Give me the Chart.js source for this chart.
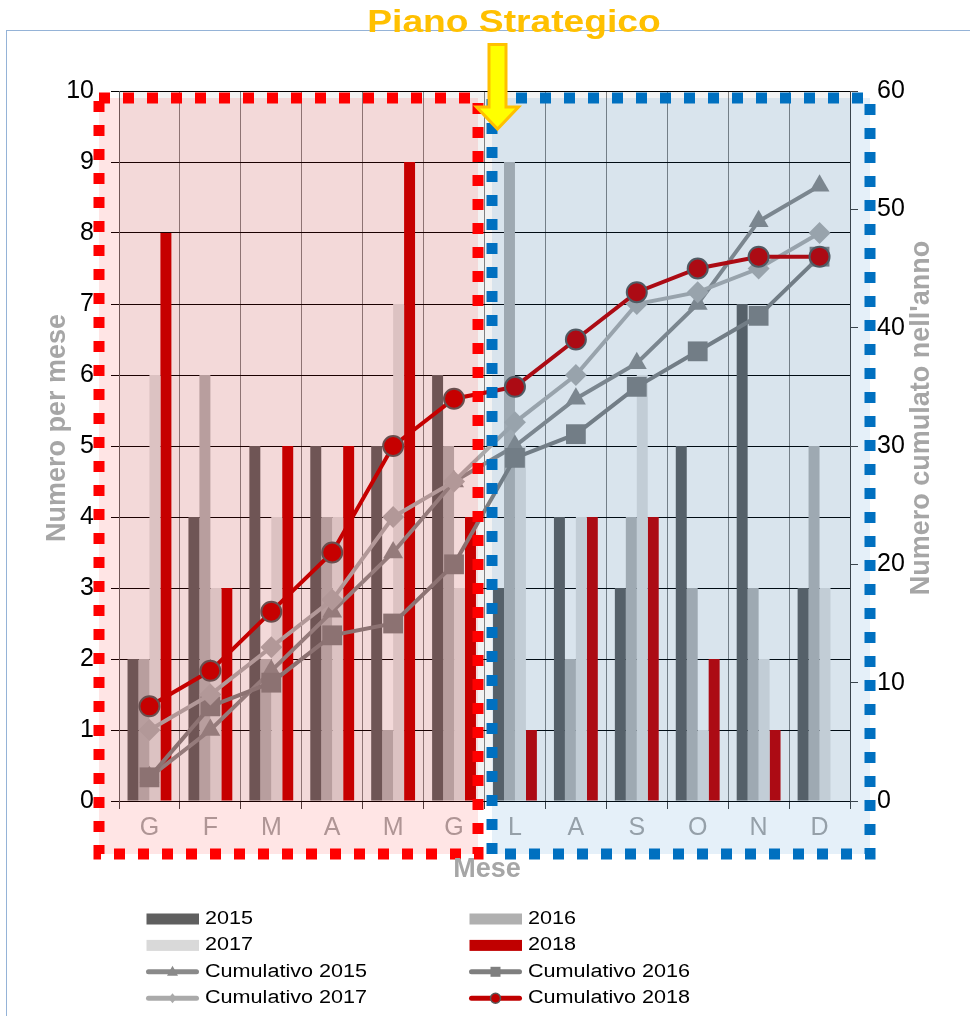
<!DOCTYPE html>
<html>
<head>
<meta charset="utf-8">
<script src="https://cdn.jsdelivr.net/npm/chart.js@4.4.1/dist/chart.umd.min.js"></script>
<style>
  html, body { margin: 0; padding: 0; background: #fff; }
  canvas { display: block; }
</style>
</head>
<body>
<canvas id="grafico" width="970" height="1016"></canvas>
<script>
// Dati (numero di casi per mese e cumulato nell'anno)
const mesi = ['G', 'F', 'M', 'A', 'M', 'G', 'L', 'A', 'S', 'O', 'N', 'D'];

const casi2015 = [2, 4, 5, 5, 5, 6, 3, 4, 3, 5, 7, 3];
const casi2016 = [2, 6, 2, 4, 1, 5, 9, 2, 4, 3, 3, 5];
const casi2017 = [6, 3, 4, 4, 7, 3, 5, 4, 6, 1, 2, 3];
const casi2018 = [8, 3, 5, 5, 9, 4, 1, 4, 4, 2, 1, 0];

const cumulato2015 = [2, 6, 11, 16, 21, 27, 30, 34, 37, 42, 49, 52];
const cumulato2016 = [2, 8, 10, 14, 15, 20, 29, 31, 35, 38, 41, 46];
const cumulato2017 = [6, 9, 13, 17, 24, 27, 32, 36, 42, 43, 45, 48];
const cumulato2018 = [8, 11, 16, 21, 30, 34, 35, 39, 43, 45, 46, 46];

const FONT = '"Liberation Sans", Arial, sans-serif';
Chart.defaults.font.family = FONT;

// Testo con leggero allargamento orizzontale (come nell'originale)
function scrivi(ctx, str, x, y, font, color, align, sx, rot) {
  ctx.save();
  ctx.translate(x, y);
  if (rot) ctx.rotate(rot);
  ctx.scale(sx || 1, 1);
  ctx.font = font;
  ctx.fillStyle = color;
  ctx.textAlign = align || 'center';
  ctx.textBaseline = 'middle';
  ctx.fillText(str, 0, 0);
  ctx.restore();
}

// Riquadro tratteggiato semitrasparente
function riquadro(ctx, x1, y1, x2, y2, fill, stroke) {
  ctx.save();
  ctx.fillStyle = fill;
  ctx.fillRect(x1, y1, x2 - x1, y2 - y1);
  ctx.strokeStyle = stroke;
  ctx.lineWidth = 11;
  ctx.setLineDash([11, 13]);
  ctx.strokeRect(x1, y1, x2 - x1, y2 - y1);
  ctx.restore();
}

// Piccolo marcatore per la legenda
function marcatore(ctx, stile, x, y, colore, bordo) {
  ctx.save();
  ctx.fillStyle = colore;
  ctx.beginPath();
  if (stile === 'triangle') {
    ctx.moveTo(x, y - 6); ctx.lineTo(x + 5.5, y + 4); ctx.lineTo(x - 5.5, y + 4);
  } else if (stile === 'rect') {
    ctx.rect(x - 5, y - 5, 10, 10);
  } else if (stile === 'rectRot') {
    ctx.moveTo(x, y - 5); ctx.lineTo(x + 4, y); ctx.lineTo(x, y + 5); ctx.lineTo(x - 4, y);
  } else {
    ctx.arc(x, y, 5, 0, Math.PI * 2);
  }
  ctx.closePath();
  ctx.fill();
  if (bordo) { ctx.strokeStyle = bordo; ctx.lineWidth = 1.5; ctx.stroke(); }
  ctx.restore();
}

const sfondo = {
  id: 'sfondo',
  beforeDraw(chart) {
    const { ctx, chartArea: a } = chart;
    ctx.save();
    ctx.strokeStyle = '#95b3d7';
    ctx.lineWidth = 1;
    ctx.strokeRect(6.5, 30.5, 1000, 1000);
    ctx.fillStyle = '#f2f2f2';
    ctx.fillRect(a.left, a.top, a.right - a.left, a.bottom - a.top);
    ctx.restore();
  }
};

const decorazioni = {
  id: 'decorazioni',
  afterDraw(chart) {
    const ctx = chart.ctx;

    // Riquadri primo e secondo semestre
    riquadro(ctx, 99, 98, 478, 854, 'rgba(255,0,0,0.1)', '#ff0000');
    riquadro(ctx, 492, 98, 870, 854, 'rgba(0,112,192,0.1)', '#0070c0');

    // Titoli degli assi
    const fTit = 'bold 27px ' + FONT;
    scrivi(ctx, 'Numero per mese', 58, 428, fTit, '#a6a6a6', 'center', 1, -Math.PI / 2);
    scrivi(ctx, "Numero cumulato nell'anno", 922, 418, fTit, '#a6a6a6', 'center', 1, -Math.PI / 2);
    scrivi(ctx, 'Mese', 487, 870, fTit, '#a6a6a6', 'center', 1);

    // Titolo e freccia
    scrivi(ctx, 'Piano Strategico', 514, 23, 'bold 31px ' + FONT, '#ffc000', 'center', 1.2);
    ctx.save();
    ctx.beginPath();
    ctx.moveTo(489, 44.5); ctx.lineTo(506, 44.5); ctx.lineTo(506, 107);
    ctx.lineTo(518.5, 107); ctx.lineTo(497.5, 129); ctx.lineTo(476.5, 107);
    ctx.lineTo(489, 107); ctx.closePath();
    ctx.fillStyle = '#ffff00';
    ctx.fill();
    ctx.strokeStyle = '#ffc000';
    ctx.lineWidth = 3;
    ctx.stroke();
    ctx.restore();

    // Legenda su due colonne
    chart.data.datasets.forEach((ds, i) => {
      const col = i % 2, riga = Math.floor(i / 2);
      const x = col ? 469.5 : 146.5;
      const y = 919 + riga * 26.4;
      ctx.save();
      if (ds.type === 'bar') {
        ctx.fillStyle = ds.backgroundColor;
        ctx.fillRect(x, y - 5.5, 52.5, 11);
      } else {
        ctx.strokeStyle = ds.borderColor;
        ctx.lineWidth = 5;
        ctx.lineCap = 'round';
        ctx.beginPath();
        ctx.moveTo(x + 2, y); ctx.lineTo(x + 50, y);
        ctx.stroke();
        marcatore(ctx, ds.pointStyle, x + 26, y, ds.backgroundColor,
          ds.pointBorderWidth ? ds.pointBorderColor : null);
      }
      ctx.restore();
      scrivi(ctx, ds.label, x + 58.5, y, '18px ' + FONT, '#000', 'left', 1.2);
    });
  }
};

function barre(label, data, colore) {
  return {
    type: 'bar', label: label, data: data, backgroundColor: colore,
    yAxisID: 'y', order: 10, categoryPercentage: 0.72, barPercentage: 1.0, borderWidth: 0
  };
}

function linea(label, data, colore, stile, raggio, ordine, bordo) {
  return {
    type: 'line', label: label, data: data, borderColor: colore, backgroundColor: colore,
    borderWidth: 4, pointStyle: stile, pointRadius: raggio, pointHoverRadius: raggio,
    pointBorderColor: bordo || colore, pointBorderWidth: bordo ? 2 : 0,
    yAxisID: 'y1', order: ordine, tension: 0
  };
}

const ctx = document.getElementById('grafico').getContext('2d');
new Chart(ctx, {
  type: 'bar',
  data: {
    labels: mesi,
    datasets: [
      barre('2015', casi2015, '#5f5f5f'),
      barre('2016', casi2016, '#b0b0b0'),
      barre('2017', casi2017, '#d9d9d9'),
      barre('2018', casi2018, '#c00000'),
      linea('Cumulativo 2015', cumulato2015, '#8a8a8a', 'triangle', 11.5, 4),
      linea('Cumulativo 2016', cumulato2016, '#7f7f7f', 'rect', 14, 3),
      linea('Cumulativo 2017', cumulato2017, '#aaaaaa', 'rectRot', 11, 2),
      linea('Cumulativo 2018', cumulato2018, '#c00000', 'circle', 10, 1, '#595959')
    ]
  },
  options: {
    responsive: false,
    animation: false,
    layout: { padding: { top: 91, left: 0, right: 0, bottom: 0 } },
    plugins: {
      legend: { display: false },
      tooltip: { enabled: false }
    },
    scales: {
      x: {
        offset: true,
        grid: { color: '#808080', offset: true, tickLength: 8, tickColor: '#404040' },
        border: { color: '#000' },
        ticks: { color: '#a6a6a6', font: { size: 25 }, padding: 4, maxRotation: 0, autoSkip: false },
        afterFit(s) { s.height = 215; }
      },
      y: {
        position: 'left', min: 0, max: 10,
        ticks: { stepSize: 1, color: '#000', font: { size: 25 }, padding: 17 },
        grid: { color: '#000', tickLength: 8 },
        border: { color: '#606060' },
        afterFit(s) { s.width = 119; }
      },
      y1: {
        position: 'right', min: 0, max: 60,
        ticks: { stepSize: 10, color: '#000', font: { size: 25 }, padding: 19 },
        grid: { drawOnChartArea: false, tickLength: 8, color: '#404040' },
        border: { color: '#404040' },
        afterFit(s) { s.width = 120; }
      }
    }
  },
  plugins: [sfondo, decorazioni]
});
</script>
</body>
</html>
